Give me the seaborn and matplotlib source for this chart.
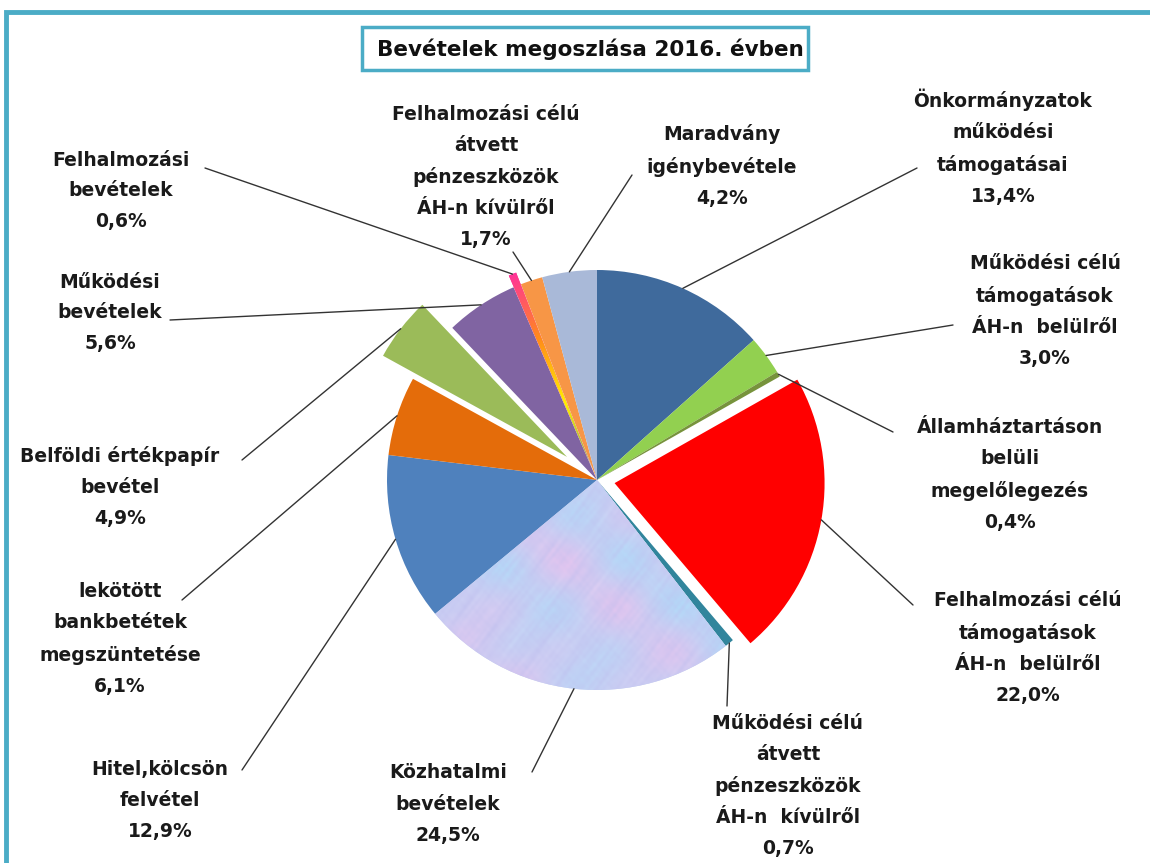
import numpy as np
import matplotlib
matplotlib.use("Agg")
import matplotlib.pyplot as plt
import seaborn as sns
from matplotlib.patches import Rectangle

sns.set_theme(style="white")
plt.rcParams['font.family'] = ['DejaVu Sans']

# ---- data (clockwise from 12 o'clock) ----
labels = [
    "Önkormányzatok\nműködési\ntámogatásai",
    "Működési célú\ntámogatások\nÁH-n  belülről",
    "Államháztartáson\nbelüli\nmegelőlegezés",
    "Felhalmozási célú\ntámogatások\nÁH-n  belülről",
    "Működési célú\nátvett\npénzeszközök\nÁH-n  kívülről",
    "Közhatalmi\nbevételek",
    "Hitel,kölcsön\nfelvétel",
    "lekötött\nbankbetétek\nmegszüntetése",
    "Belföldi értékpapír\nbevétel",
    "Működési\nbevételek",
    "Felhalmozási\nbevételek",
    "Felhalmozási célú\nátvett\npénzeszközök\nÁH-n kívülről",
    "Maradvány\nigénybevétele",
]
values = [13.4, 3.0, 0.4, 22.0, 0.7, 24.5, 12.9, 6.1, 4.9, 5.6, 0.6, 1.7, 4.2]
pct_labels = ["13,4%", "3,0%", "0,4%", "22,0%", "0,7%", "24,5%", "12,9%",
              "6,1%", "4,9%", "5,6%", "0,6%", "1,7%", "4,2%"]

colors = ["#3F6A9C", "#92D050", "#77933C", "#FF0000", "#31859C", "#C6D4F0",
          "#4F81BD", "#E46C0A", "#9BBB59", "#8064A2", "#FF3399", "#F79646",
          "#A9B9D8"]
explode = [0, 0, 0, 0.085, 0, 0, 0, 0, 0.18, 0, 0.06, 0, 0]

# label text centres (pixel coords, y from top) - layout only
text_pos = [(1003, 147), (1045, 311), (1010, 475), (1028, 648), (788, 786),
            (448, 804), (160, 800), (120, 639), (120, 487), (110, 313),
            (121, 191), (486, 177), (722, 166)]
# leader line starting point near text (pixel coords)
line_start = [(917, 168), (953, 325), (893, 432), (913, 605), (727, 706),
              (532, 772), (242, 770), (182, 600), (242, 460), (170, 320),
              (205, 168), (513, 252), (632, 175)]

W, H = 1150, 863
fig = plt.figure(figsize=(W / 100, H / 100), dpi=100)
ax = fig.add_axes([0, 0, 1, 1])

cx, cy, R = 597, H - 480, 210
wedges, _ = ax.pie(values, colors=colors, explode=[e * R for e in explode],
                   startangle=90, counterclock=False, center=(cx, cy),
                   radius=R, wedgeprops=dict(linewidth=0), frame=True)
ax.set_xlim(0, W)
ax.set_ylim(0, H)
ax.set_aspect("equal")
ax.axis("off")

# mottled texture for Közhatalmi bevételek
tw = wedges[5]
n = 420
xx, yy = np.meshgrid(np.linspace(0, 1, n), np.linspace(0, 1, n))
freqs = [(131, 97, 0.3), (173, 211, 1.7), (251, 139, 2.9), (89, 263, 0.8),
         (311, 277, 4.1), (59, 43, 2.2), (37, 71, 5.3), (389, 347, 1.1)]
pat = np.zeros_like(xx)
for fx, fy, ph in freqs:
    pat += np.sin(fx * xx + ph) * np.sin(fy * yy + 2 * ph)
    pat += np.sin(fx * 0.7 * (xx + yy) + fy * 0.3 * xx + ph)
pat = (pat - pat.min()) / (pat.max() - pat.min())
pat2 = np.sin(23 * xx + 1.3) * np.cos(31 * yy + 0.4) + np.sin(17 * (xx - yy))
pat2 = (pat2 - pat2.min()) / (pat2.max() - pat2.min())
c_blue = np.array([0.70, 0.87, 0.98])
c_lav = np.array([0.74, 0.74, 0.93])
c_pink = np.array([0.91, 0.78, 0.94])
base = c_blue[None, None, :] * (1 - pat2[..., None]) + c_pink[None, None, :] * pat2[..., None]
img = base * (1 - 0.6 * pat[..., None]) + c_lav[None, None, :] * 0.6 * pat[..., None]
im = ax.imshow(img, extent=(cx - R, cx + R, cy - R, cy + R), zorder=1.5,
               interpolation="bilinear")
im.set_clip_path(tw)

# gradient fill for the thin Felhalmozási bevételek slice
pw = wedges[10]
pcx, pcy = pw.center
rr = np.hypot(xx - 0.5, yy - 0.5) * 2
stops = np.array([[0.45, 0.75, 0.30], [1.0, 0.95, 0.0], [1.0, 0.55, 0.1],
                  [1.0, 0.2, 0.6]])
pos = np.clip(rr, 0, 1) * (len(stops) - 1)
i0 = np.clip(np.floor(pos).astype(int), 0, len(stops) - 2)
fr = (pos - i0)[..., None]
gimg = stops[i0] * (1 - fr) + stops[i0 + 1] * fr
gim = ax.imshow(gimg, extent=(pcx - R, pcx + R, pcy - R, pcy + R), zorder=1.6,
                interpolation="bilinear")
gim.set_clip_path(pw)
ax.set_xlim(0, W)
ax.set_ylim(0, H)

# labels and leader lines
for w, lab, pct, tp, ls in zip(wedges, labels, pct_labels, text_pos, line_start):
    ang = np.deg2rad((w.theta1 + w.theta2) / 2)
    ex = w.center[0] + w.r * np.cos(ang)
    ey = w.center[1] + w.r * np.sin(ang)
    ax.plot([ls[0], ex], [H - ls[1], ey], color="#333333", lw=1.0, zorder=3)
    ax.text(tp[0], H - tp[1], lab + "\n" + pct, ha="center", va="center",
            fontsize=13.5, fontweight="bold", color="#1a1a1a",
            linespacing=1.8, zorder=4)

# outer frame
ax.add_patch(Rectangle((6, -20), W + 30, H - 12 + 20, fill=False,
                       edgecolor="#4BACC6", lw=3.5, zorder=5))
# title box
ax.add_patch(Rectangle((362, H - 70), 446, 43, facecolor="white",
                       edgecolor="#4BACC6", lw=2.5, zorder=5))
ax.text(590, H - 49, "Bevételek megoszlása 2016. évben", ha="center",
        va="center", fontsize=15.5, fontweight="bold", color="#111111",
        zorder=6)

fig.savefig("out.png", dpi=100)
